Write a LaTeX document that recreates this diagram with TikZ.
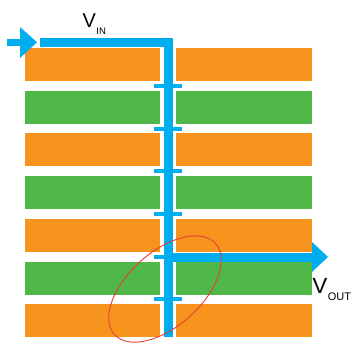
\documentclass[tikz,border=0pt]{standalone}
\usepackage{fontspec}
\setmainfont{Liberation Sans}
\definecolor{bl}{RGB}{0,174,239}
\definecolor{orng}{RGB}{247,148,30}
\definecolor{grn}{RGB}{80,184,72}
\definecolor{rd}{RGB}{232,60,50}
\begin{document}
\begin{tikzpicture}[x=1pt,y=-1pt,
  layerbox/.style={inner sep=0,outer sep=0,minimum width=135pt,minimum height=33pt,anchor=north west},
  orangebox/.style={layerbox,fill=orng},
  greenbox/.style={layerbox,fill=grn},
  padbar/.style={fill=bl,inner sep=0,minimum width=28pt,minimum height=4pt},
  trace/.style={draw=bl,line width=9pt,miter limit=10},
  ahead/.style={fill=bl}]
\useasboundingbox (0,0) rectangle (355,343);
% layers
\foreach \i/\s in {0/orangebox,1/greenbox,2/orangebox,3/greenbox,4/orangebox,5/greenbox,6/orangebox}{
  \node[\s] (L\i) at (25,{48+42.7*\i}) {};
  \node[\s,minimum width=136pt] (R\i) at (176,{48+42.7*\i}) {};
}
% pads
\foreach \i in {0,...,5}{
  \node[padbar] (p\i) at (168,{85.9+42.7*\i}) {};
}
% via and input trace
\coordinate (vinstart) at (40,42);
\coordinate (corner) at (168.5,42);
\coordinate (viabot) at (168.5,337);
\draw[trace] (vinstart) -- (corner) -- (viabot);
% output trace
\coordinate (outstart) at (168.5,257);
\coordinate (outend) at (312,257);
\draw[trace] (outstart) -- (outend);
\fill[ahead] (312,242) -- (328,257) -- (312,272) -- cycle;
% input arrow
\fill[bl] (7,38.5) rectangle (21,46);
\fill[ahead] (20,27) -- (37,42.3) -- (20,58) -- cycle;
% labels
\node[anchor=base west,inner sep=0] (vin) at (82.5,27) {\fontsize{20}{20}\selectfont V};
\node[anchor=base west,inner sep=0] (vinsub) at (vin.base east) [yshift=-7pt] {\fontsize{9.5}{10}\selectfont IN};
\node[anchor=base west,inner sep=0] (vout) at (312.5,293) {\fontsize{22}{22}\selectfont V};
\node[anchor=base west,inner sep=0] (voutsub) at (vout.base east) [yshift=-7pt] {\fontsize{11}{11}\selectfont OUT};
% red ellipse
\draw[rd,line width=0.9pt] (165,289) ellipse [x radius=68pt,y radius=37pt,rotate=42];
\end{tikzpicture}
\end{document}
